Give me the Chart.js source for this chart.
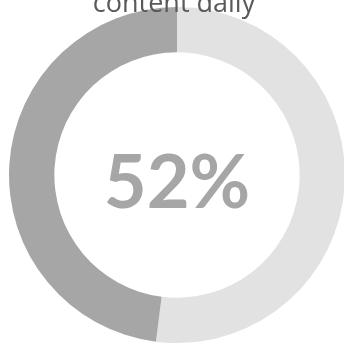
<!DOCTYPE html>
<html>
<head>
<meta charset="utf-8">
<script src="https://cdn.jsdelivr.net/npm/chart.js@4.4.1/dist/chart.umd.min.js"></script>
<style>
  html, body { margin: 0; padding: 0; background: #ffffff; overflow: hidden; }
  #wrap { position: absolute; left: 0; top: 0; width: 354px; height: 350px; }
</style>
</head>
<body>
<div id="wrap"><canvas id="chart" width="354" height="350"></canvas></div>
<script>
// Share of people reaching the content daily
const categories = ['Daily', 'Not daily'];
const shareValues = [52, 48];
const sliceColors = ['#e2e2e2', '#a6a6a6'];
const centerLabel = '52%';
const titleLines = ['content daily'];

// Draws the heading line and the big figure in the middle of the ring
const textPlugin = {
  id: 'ringText',
  afterDraw(chart) {
    const ctx = chart.ctx;
    const meta = chart.getDatasetMeta(0).data[0];
    ctx.save();
    ctx.textAlign = 'center';
    ctx.textBaseline = 'alphabetic';
    ctx.fillStyle = '#595959';
    ctx.font = '27px "Open Sans"';
    ctx.fillText(titleLines[titleLines.length - 1], 174, 12);
    ctx.fillStyle = '#a6a6a6';
    ctx.font = 'bold 74px Lato';
    ctx.textBaseline = 'middle';
    ctx.fillText(centerLabel, meta.x, meta.y + 9);
    ctx.restore();
  }
};

new Chart(document.getElementById('chart'), {
  type: 'doughnut',
  data: {
    labels: categories,
    datasets: [{
      data: shareValues,
      backgroundColor: sliceColors,
      borderWidth: 0
    }]
  },
  options: {
    responsive: false,
    animation: false,
    cutout: '73%',
    layout: { padding: { left: 9, right: 9, top: 7, bottom: 7 } },
    plugins: {
      legend: { display: false },
      tooltip: { enabled: false },
      title: { display: false }
    }
  },
  plugins: [textPlugin]
});
</script>
</body>
</html>
